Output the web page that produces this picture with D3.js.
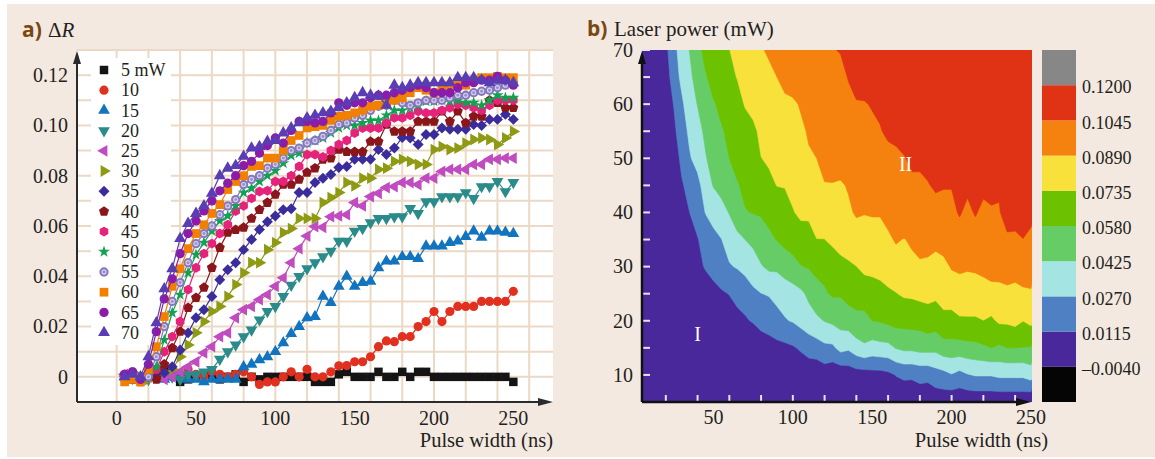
<!DOCTYPE html>
<html>
<head>
<meta charset="utf-8">
<script src="https://cdn.jsdelivr.net/npm/d3@7"></script>
<style>
  html, body { margin: 0; padding: 0; background: #ffffff; }
  svg { display: block; }
  text { font-family: "Liberation Serif", "Times New Roman", serif; fill: #231f20; }
  .tag { font-family: "Open Sans", "DejaVu Sans", sans-serif; font-weight: 700; fill: #7a4711; }
</style>
</head>
<body>
<svg id="fig" width="1155" height="459"></svg>
<script>
// ---- data: reflectivity change ΔR vs pulse width, one series per laser power ----
const pulseWidths = [5, 10, 15, 20, 25, 30, 35, 40, 45, 50, 55, 60, 65, 70, 75, 80, 85, 90, 95, 100,
  105, 110, 115, 120, 125, 130, 135, 140, 145, 150, 155, 160, 165, 170, 175, 180, 185, 190, 195, 200,
  205, 210, 215, 220, 225, 230, 235, 240, 245, 250];
const powers = [5, 10, 15, 20, 25, 30, 35, 40, 45, 50, 55, 60, 65, 70];
const legendLabels = ["5 mW", "10", "15", "20", "25", "30", "35", "40", "45", "50", "55", "60", "65", "70"];

const dR5 = [0.000,-0.001,0.000,0.001,0.002,0.003,0.001,-0.002,-0.001,0.000, 0.001,0.000,-0.001,0.000,0.001,-0.002,0.000,-0.001,0.000,0.000,
  0.000,0.000,0.000,0.000,-0.002,-0.002,-0.002,0.001,0.002,0.000, 0.000,0.000,0.002,0.000,0.000,0.002,0.000,0.002,0.002,0.000,
  0.000,0.000,0.000,0.000,0.000,0.000,0.000,0.000,0.000,-0.002];
const dR10 = [0.001,0.000,-0.001,0.000,0.001,0.000,0.000,0.001,0.003,0.001, 0.000,0.002,0.001,0.000,0.001,0.002,0.000,-0.003,-0.002,-0.002,
  0.000,0.002,0.000,0.003,0.000,0.000,0.002,0.0044,0.0045,0.006, 0.006,0.008,0.012,0.0143,0.014,0.016,0.016,0.020,0.022,0.026,
  0.022,0.026,0.028,0.028,0.028,0.030,0.030,0.030,0.030,0.034];
const dR15 = [0.000,0.001,-0.001,0.000,0.000,-0.001,0.000,0.000,-0.001,-0.001, -0.002,-0.001,-0.001,-0.001,-0.001,0.004,0.005,0.0068,0.008,0.010,
  0.0135,0.0172,0.020,0.0235,0.024,0.032,0.0295,0.036,0.040,0.036, 0.0375,0.038,0.0434,0.046,0.046,0.0478,0.0478,0.047,0.052,0.052,
  0.052,0.0534,0.054,0.0558,0.058,0.0555,0.058,0.058,0.0575,0.057];
const dR20 = [0.000,0.001,0.000,-0.001,0.000,0.001,0.000,-0.001,0.001,0.001, 0.002,0.003,0.007,0.010,0.0127,0.016,0.0187,0.0227,0.026,0.028,
  0.032,0.0365,0.040,0.043,0.0454,0.0478,0.050,0.054,0.054,0.058, 0.059,0.0613,0.063,0.063,0.0637,0.0637,0.067,0.065,0.0697,0.0697,
  0.0717,0.0717,0.0717,0.0733,0.071,0.0757,0.0757,0.0777,0.0737,0.0773];
const dR25 = [0.001,0.000,-0.001,0.000,0.000,-0.001,0.000,0.002,0.004,0.006, 0.0095,0.012,0.016,0.0175,0.0235,0.0267,0.028,0.0307,0.0327,0.036,
  0.0394,0.0454,0.051,0.056,0.0598,0.0595,0.0637,0.064,0.0645,0.0693, 0.068,0.0717,0.073,0.0753,0.0757,0.0773,0.0773,0.0765,0.079,0.079,
  0.0817,0.0825,0.0825,0.0825,0.0845,0.0845,0.0865,0.0865,0.087,0.087];
const dR30 = [0.000,0.001,0.000,-0.001,0.000,0.002,0.003,0.008,0.0127,0.0175, 0.022,0.026,0.028,0.032,0.0367,0.0414,0.0454,0.0454,0.0506,0.0534,
  0.0574,0.059,0.063,0.063,0.063,0.0693,0.0713,0.0733,0.0773,0.076, 0.079,0.079,0.0825,0.083,0.0857,0.0865,0.0857,0.0845,0.0845,0.0904,
  0.0916,0.0904,0.091,0.093,0.0944,0.095,0.0944,0.0924,0.095,0.0976];
const dR35 = [0.000,-0.001,0.000,0.000,0.000,0.0016,0.004,0.0107,0.0175,0.0235, 0.0267,0.032,0.0386,0.0426,0.0454,0.0506,0.0546,0.0586,0.0617,0.064,
  0.0665,0.0669,0.0733,0.0733,0.0773,0.079,0.0805,0.0833,0.0837,0.0865, 0.0865,0.0865,0.0904,0.0884,0.091,0.0952,0.095,0.0924,0.0964,0.0964,
  0.099,0.0985,0.0985,0.0985,0.1004,0.100,0.1024,0.1024,0.1044,0.1024];
const dR40 = [0.000,0.000,-0.002,0.000,-0.001,0.005,0.0115,0.018,0.0275,0.0315, 0.0355,0.0434,0.0514,0.0574,0.0585,0.0594,0.063,0.0665,0.0693,0.0725,
  0.0765,0.0765,0.0785,0.0813,0.083,0.0865,0.087,0.0904,0.0895,0.0895, 0.0895,0.0936,0.0936,0.1004,0.0976,0.0976,0.0976,0.1016,0.1016,0.1016,
  0.1056,0.1016,0.1056,0.101,0.1036,0.1036,0.110,0.109,0.107,0.107];
const dR45 = [0.001,0.000,-0.001,0.001,0.003,0.010,0.016,0.022,0.0347,0.0434, 0.049,0.053,0.057,0.0605,0.066,0.068,0.071,0.0737,0.074,0.0777,
  0.0777,0.080,0.0837,0.0884,0.0884,0.0875,0.090,0.0924,0.094,0.097, 0.099,0.099,0.099,0.101,0.103,0.103,0.104,0.1056,0.105,0.105,
  0.106,0.107,0.1084,0.108,0.107,0.106,0.108,0.110,0.110,0.110];
const dR50 = [0.000,0.001,0.000,0.001,0.004,0.0147,0.0255,0.0327,0.0414,0.0486, 0.0534,0.058,0.062,0.064,0.068,0.0733,0.075,0.0777,0.080,0.082,
  0.085,0.088,0.089,0.093,0.094,0.095,0.097,0.099,0.100,0.100, 0.101,0.102,0.102,0.104,0.106,0.106,0.107,0.108,0.1096,0.1096,
  0.110,0.1096,0.110,0.109,0.109,0.108,0.110,0.112,0.111,0.111];
const dR55 = [0.000,0.002,0.000,0.000,0.008,0.020,0.030,0.0375,0.0454,0.053, 0.057,0.060,0.0645,0.068,0.0705,0.0765,0.0785,0.080,0.083,0.0845,
  0.087,0.090,0.091,0.093,0.094,0.0956,0.098,0.1004,0.101,0.103, 0.104,0.106,0.1076,0.108,0.110,0.109,0.108,0.109,0.110,0.110,
  0.110,0.111,0.112,0.112,0.113,0.1136,0.114,0.115,0.116,0.117];
const dR60 = [-0.002,-0.001,-0.002,0.003,0.012,0.024,0.036,0.043,0.051,0.057, 0.0605,0.065,0.0685,0.0745,0.0777,0.080,0.0837,0.084,0.087,0.087,
  0.090,0.094,0.096,0.099,0.0995,0.100,0.102,0.1036,0.104,0.105, 0.106,0.1076,0.108,0.109,0.110,0.111,0.113,0.115,0.114,0.113,
  0.115,0.116,0.116,0.116,0.118,0.119,0.119,0.1195,0.119,0.119];
const dR65 = [0.001,0.002,-0.001,0.005,0.018,0.031,0.039,0.049,0.057,0.062, 0.066,0.070,0.074,0.077,0.080,0.084,0.0857,0.089,0.092,0.095,
  0.093,0.098,0.1016,0.1016,0.101,0.1016,0.105,0.109,0.108,0.109, 0.109,0.111,0.112,0.112,0.113,0.114,0.115,0.116,0.115,0.113,
  0.113,0.113,0.115,0.117,0.117,0.118,0.118,0.1195,0.118,0.116];
const dR70 = [0.000,0.001,0.000,0.008,0.0215,0.035,0.043,0.055,0.061,0.065, 0.068,0.073,0.080,0.083,0.084,0.0877,0.091,0.0916,0.0936,0.094,
  0.097,0.099,0.101,0.103,0.104,0.105,0.1056,0.107,0.109,0.111, 0.113,0.112,0.1116,0.108,0.116,0.115,0.116,0.117,0.117,0.117,
  0.117,0.117,0.119,0.119,0.119,0.118,0.117,0.118,0.118,0.117];

const seriesValues = [dR5, dR10, dR15, dR20, dR25, dR30, dR35, dR40, dR45, dR50, dR55, dR60, dR65, dR70];

// contour levels of the map and their tick labels
const levels = [-0.004, 0.0115, 0.027, 0.0425, 0.058, 0.0735, 0.089, 0.1045, 0.12];
const yTicksA = [0, 0.02, 0.04, 0.06, 0.08, 0.10, 0.12];
const xTicksA = [0, 50, 100, 150, 200, 250];

// ---- styles ----
const seriesColors = ["#141414", "#e1301f", "#1273bf", "#2b8b8b", "#c04cc0", "#8e9a12", "#3b2c9c",
  "#8a161b", "#e6237b", "#12a152", "#8577bd", "#f28000", "#8b1ca9", "#5a3db2"];
// colours of the map bands, from the lowest band upwards
const bandColors = ["#050505", "#48289b", "#5080c4", "#a4e5e3", "#66cd66", "#6dc200",
  "#f9e13c", "#f5820f", "#e03214", "#878787"];

const polygonType = k => ({
  draw(ctx, size) {
    const r = Math.sqrt(size / (k / 2 * Math.sin(2 * Math.PI / k)));
    for (let i = 0; i < k; i++) {
      const a = -Math.PI / 2 + i * 2 * Math.PI / k;
      if (i === 0) ctx.moveTo(r * Math.cos(a), r * Math.sin(a));
      else ctx.lineTo(r * Math.cos(a), r * Math.sin(a));
    }
    ctx.closePath();
  }
});
const markerStyles = [
  { type: d3.symbolSquare, size: 72, rot: 0 },
  { type: d3.symbolCircle, size: 66, rot: 0 },
  { type: d3.symbolTriangle, size: 60, rot: 0 },
  { type: d3.symbolTriangle, size: 60, rot: 180 },
  { type: d3.symbolTriangle, size: 60, rot: -90 },
  { type: d3.symbolTriangle, size: 60, rot: 90 },
  { type: d3.symbolSquare, size: 60, rot: 45 },
  { type: polygonType(5), size: 66, rot: 0 },
  { type: polygonType(6), size: 64, rot: 0 },
  { type: d3.symbolStar, size: 44, rot: 0 },
  { type: d3.symbolCircle, size: 68, rot: 0, ring: true },
  { type: d3.symbolSquare, size: 76, rot: 0 },
  { type: d3.symbolCircle, size: 68, rot: 0 },
  { type: d3.symbolTriangle, size: 62, rot: 0 }
];

const svg = d3.select("#fig");
const W = 1155, H = 459;

// beige page panel
svg.append("rect").attr("x", 7).attr("y", 4).attr("width", W - 7).attr("height", H - 6).attr("fill", "#f3e9e0");

const axisColor = "#2b2b2b";
const arrowUp = (x, y) => `M${x},${y}L${x - 4},${y + 13}L${x + 4},${y + 13}Z`;
const arrowRight = (x, y) => `M${x},${y}L${x - 15},${y - 4}L${x - 15},${y + 4}Z`;

// =================== panel a ===================
const xA = d3.scaleLinear().domain([-25, 275]).range([77, 553]);
const yA = d3.scaleLinear().domain([-0.01, 0.13]).range([402, 50]);
const pa = svg.append("g");

pa.append("rect")
  .attr("x", xA(-25)).attr("y", yA(0.13))
  .attr("width", xA(275) - xA(-25)).attr("height", yA(-0.01) - yA(0.13))
  .attr("fill", "#ffffff");

// grid every 25 ns and every 0.01
pa.append("g").selectAll("line").data(xA.ticks(12).filter(d => d > -20)).join("line")
  .attr("x1", d => xA(d)).attr("x2", d => xA(d))
  .attr("y1", yA(-0.01)).attr("y2", yA(0.13))
  .attr("stroke", "#ebd9c5").attr("stroke-width", 2);
pa.append("g").selectAll("line").data(yA.ticks(14).filter(d => d > -0.005)).join("line")
  .attr("y1", d => yA(d)).attr("y2", d => yA(d))
  .attr("x1", xA(-25)).attr("x2", xA(275))
  .attr("stroke", "#ebd9c5").attr("stroke-width", 2);

// legend background sits over the grid but under the data
const legX = 91, legY = 58, legW = 80, legH = 287, legRow0 = 70, legStep = 20.2;
pa.append("rect").attr("x", legX).attr("y", legY).attr("width", legW).attr("height", legH).attr("fill", "#ffffff");

const line = d3.line().x(d => xA(d[0])).y(d => yA(d[1]));

// one marker (a small group) at the origin of the given selection
function drawMarker(g, s, color) {
  const path = d3.symbol().type(s.type).size(s.size)();
  g.append("path").attr("d", path).attr("fill", color);
  if (s.ring) {
    g.append("path").attr("d", d3.symbol().type(d3.symbolCircle).size(s.size * 0.32)()).attr("fill", "#d6d0ee");
    g.append("path").attr("d", d3.symbol().type(d3.symbolCircle).size(s.size * 0.1)()).attr("fill", "#9a8ecb");
  }
}

const series = seriesValues.map((vals, i) => ({
  power: powers[i],
  color: seriesColors[i],
  style: markerStyles[i],
  points: pulseWidths.map((w, k) => [w, vals[k]])
}));

const gData = pa.append("g");
series.forEach(s => {
  const g = gData.append("g");
  g.append("path").attr("d", line(s.points)).attr("fill", "none")
    .attr("stroke", s.color).attr("stroke-width", 1.2);
  g.selectAll("g.m").data(s.points).join("g").attr("class", "m")
    .attr("transform", d => `translate(${xA(d[0])},${yA(d[1])}) rotate(${s.style.rot})`)
    .each(function () { drawMarker(d3.select(this), s.style, s.color); });
});

// legend entries
const leg = pa.append("g");
series.forEach((s, i) => {
  const y = legRow0 + i * legStep;
  leg.append("g").attr("transform", `translate(${legX + 13},${y}) rotate(${s.style.rot})`)
    .call(g => drawMarker(g, s.style, s.color));
  leg.append("text").attr("x", legX + 30).attr("y", y).attr("dy", "0.34em")
    .attr("font-size", 18).text(legendLabels[i]);
});

// axes with arrow heads
pa.append("line").attr("x1", xA(-25)).attr("x2", xA(-25)).attr("y1", yA(-0.01)).attr("y2", yA(0.13) + 8)
  .attr("stroke", axisColor).attr("stroke-width", 2);
pa.append("path").attr("d", arrowUp(xA(-25), yA(0.13) + 1)).attr("fill", axisColor);
pa.append("line").attr("x1", xA(-25)).attr("x2", xA(275) - 8).attr("y1", yA(-0.01)).attr("y2", yA(-0.01))
  .attr("stroke", axisColor).attr("stroke-width", 2);
pa.append("path").attr("d", arrowRight(xA(275), yA(-0.01))).attr("fill", axisColor);

pa.append("g").selectAll("text").data(yTicksA).join("text")
  .attr("x", xA(-25) - 9).attr("y", d => yA(d)).attr("dy", "0.34em")
  .attr("text-anchor", "end").attr("font-size", 20)
  .text(d => d === 0 ? "0" : d.toFixed(2));
pa.append("g").selectAll("text").data(xTicksA).join("text")
  .attr("x", d => xA(d)).attr("y", yA(-0.01) + 23)
  .attr("text-anchor", "middle").attr("font-size", 20)
  .text(d => d);

pa.append("text").attr("x", xA(275)).attr("y", 447).attr("text-anchor", "end")
  .attr("font-size", 20.5).text("Pulse width (ns)");
pa.append("text").attr("class", "tag").attr("x", 22).attr("y", 37).attr("font-size", 21).text("a)");
const tA = pa.append("text").attr("x", 48).attr("y", 37).attr("font-size", 21);
tA.append("tspan").text("Δ");
tA.append("tspan").attr("font-style", "italic").text("R");

// =================== panel b ===================
const xB = d3.scaleLinear().domain([5, 250]).range([642, 1031]);
const yB = d3.scaleLinear().domain([5, 70]).range([402, 50]);
const pb = svg.append("g");

svg.append("defs").append("clipPath").attr("id", "clipB")
  .append("rect").attr("x", xB(5)).attr("y", yB(70))
  .attr("width", xB(250) - xB(5) + 1).attr("height", yB(5) - yB(70));

const nx = pulseWidths.length, ny = powers.length;
const grid = seriesValues.flat();
// grid cell centres carry the samples
const gx = d3.scaleLinear().domain([0.5, nx - 0.5]).range([pulseWidths[0], pulseWidths[nx - 1]]);
const gy = d3.scaleLinear().domain([0.5, ny - 0.5]).range([powers[0], powers[ny - 1]]);
const toPx = p => [xB(gx(p[0])), yB(gy(p[1]))];
const ringPath = mp => mp.coordinates.map(poly => poly.map(ring =>
  "M" + ring.map(p => toPx(p).map(v => v.toFixed(2)).join(",")).join("L") + "Z").join("")).join("");

const contours = d3.contours().size([nx, ny]).thresholds(levels)(grid);

const gMap = pb.append("g").attr("clip-path", "url(#clipB)");
gMap.append("rect").attr("x", xB(5)).attr("y", yB(70))
  .attr("width", xB(250) - xB(5) + 1).attr("height", yB(5) - yB(70)).attr("fill", bandColors[0]);
gMap.selectAll("path").data(contours).join("path")
  .attr("d", ringPath)
  .attr("fill", (d, i) => bandColors[i + 1])
  .attr("stroke", (d, i) => bandColors[i + 1]).attr("stroke-width", 0.6);

// inward ticks
const tickColor = "#ecdff0";
pb.append("g").selectAll("line").data(yB.ticks(13).filter(d => d > 5)).join("line")
  .attr("x1", xB(5)).attr("x2", xB(5) + 8).attr("y1", d => yB(d)).attr("y2", d => yB(d))
  .attr("stroke", tickColor).attr("stroke-width", 2);
pb.append("g").selectAll("line").data(xB.ticks(10)).join("line")
  .attr("x1", d => xB(d)).attr("x2", d => xB(d)).attr("y1", yB(5)).attr("y2", yB(5) - 7)
  .attr("stroke", tickColor).attr("stroke-width", 2);

// axes
pb.append("line").attr("x1", xB(5)).attr("x2", xB(5)).attr("y1", yB(5)).attr("y2", yB(70) + 8)
  .attr("stroke", "#111").attr("stroke-width", 2.5);
pb.append("path").attr("d", arrowUp(xB(5), yB(70) + 1)).attr("fill", "#111");
pb.append("line").attr("x1", xB(5)).attr("x2", xB(250) - 8).attr("y1", yB(5)).attr("y2", yB(5))
  .attr("stroke", "#111").attr("stroke-width", 2.5);
pb.append("path").attr("d", arrowRight(xB(250), yB(5))).attr("fill", "#111");

pb.append("g").selectAll("text").data(yB.ticks(7)).join("text")
  .attr("x", xB(5) - 9).attr("y", d => yB(d)).attr("dy", "0.34em")
  .attr("text-anchor", "end").attr("font-size", 20).text(d => d);
pb.append("g").selectAll("text").data(xB.ticks(5)).join("text")
  .attr("x", d => xB(d)).attr("y", yB(5) + 22)
  .attr("text-anchor", "middle").attr("font-size", 20).text(d => d);

pb.append("text").attr("x", 1048).attr("y", 447).attr("text-anchor", "end")
  .attr("font-size", 20.5).text("Pulse width (ns)");
pb.append("text").attr("class", "tag").attr("x", 587).attr("y", 36).attr("font-size", 21).text("b)");
pb.append("text").attr("x", 614).attr("y", 36).attr("font-size", 21).text("Laser power (mW)");

// region marks
pb.append("text").attr("x", xB(40)).attr("y", yB(17.5)).attr("dy", "0.34em")
  .attr("text-anchor", "middle").attr("font-size", 20).style("fill", "#ffffff").text("I");
pb.append("text").attr("x", xB(171)).attr("y", yB(49)).attr("dy", "0.34em")
  .attr("text-anchor", "middle").attr("font-size", 20).style("fill", "#ffffff").text("II");

// colour bar
const cbX = 1042, cbW = 34;
const cy = d3.scaleLinear().domain([0, bandColors.length]).range([yB(5), yB(70)]);
pb.append("g").selectAll("rect").data(bandColors).join("rect")
  .attr("x", cbX).attr("width", cbW)
  .attr("y", (d, i) => cy(i + 1)).attr("height", (d, i) => cy(i) - cy(i + 1))
  .attr("fill", d => d);
const fmt = d3.format(".4f");
pb.append("g").selectAll("text").data(levels).join("text")
  .attr("x", cbX + cbW + 6).attr("y", (d, i) => cy(i + 1) + 2).attr("dy", "0.34em")
  .attr("font-size", 18).text(d => fmt(d).replace("−", "–").replace("-", "–"));
</script>
</body>
</html>
